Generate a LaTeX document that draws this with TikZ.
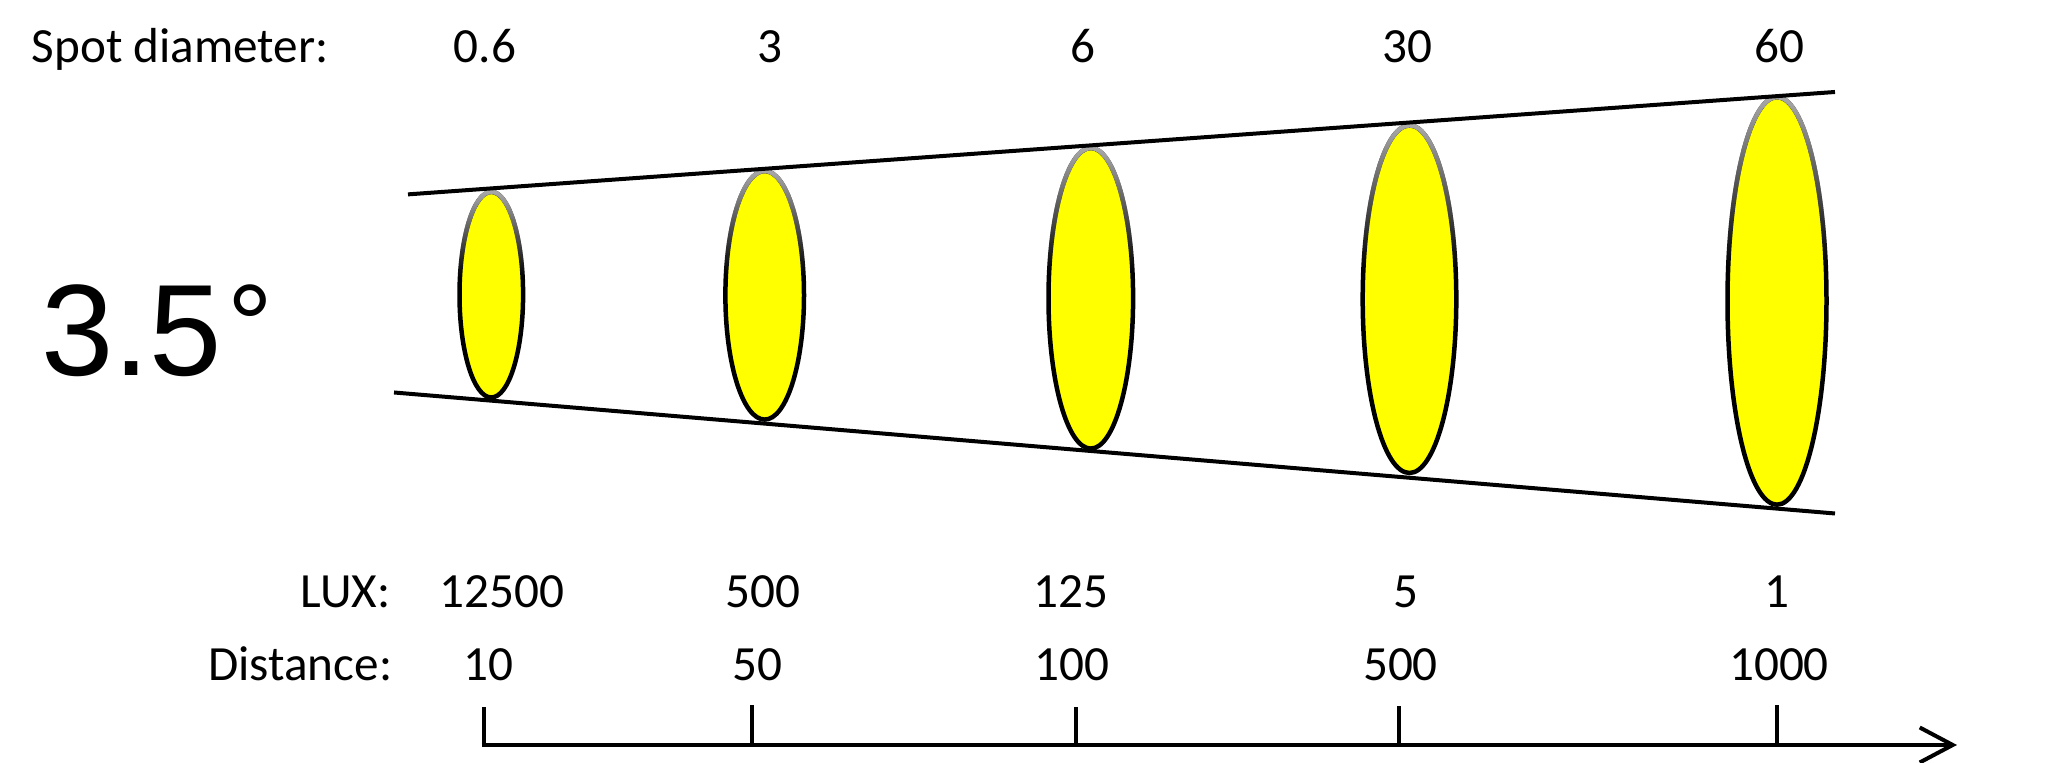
\documentclass[tikz,border=0pt]{standalone}
\usepackage{fontspec}
\setmainfont{Carlito}
\newfontfamily\anglefont{Liberation Sans}
\usepackage{tikz}
\usetikzlibrary{arrows.meta}
\usetikzlibrary{fadings}
\definecolor{spotyellow}{RGB}{255,255,0}
\definecolor{rimgray}{RGB}{172,172,172}
\pgfdeclareverticalshading{rimmask}{100bp}{color(0bp)=(black); color(25bp)=(black); color(54bp)=(black); color(75bp)=(white); color(100bp)=(white)}
\pgfdeclarefading{rimfade}{\pgfuseshading{rimmask}}

\begin{document}
\begin{tikzpicture}
\useasboundingbox (0,0) rectangle (20.6,7.63);

% spot centres and cone ends
\coordinate (Spot1) at (4.913,4.683);
\coordinate (Spot2) at (7.647,4.677);
\coordinate (Spot3) at (10.908,4.647);
\coordinate (Spot4) at (14.095,4.638);
\coordinate (Spot5) at (17.77,4.621);
\coordinate (ConeTopStart) at (4.08,5.686);
\coordinate (ConeTopEnd) at (18.35,6.71);
\coordinate (ConeLowStart) at (3.94,3.705);
\coordinate (ConeLowEnd) at (18.35,2.495);

\begin{scope}[line width=0.045cm,
              spot/.style={draw=black,fill=spotyellow},
              rim/.style={draw=rimgray,path fading=rimfade}]
    \path[spot] (Spot1) ellipse [x radius=0.318,y radius=1.028];
    \path[rim] (Spot1) ellipse [x radius=0.318,y radius=1.028];
    \path[spot] (Spot2) ellipse [x radius=0.393,y radius=1.243];
    \path[rim] (Spot2) ellipse [x radius=0.393,y radius=1.243];
    \path[spot] (Spot3) ellipse [x radius=0.423,y radius=1.503];
    \path[rim] (Spot3) ellipse [x radius=0.423,y radius=1.503];
    \path[spot] (Spot4) ellipse [x radius=0.468,y radius=1.738];
    \path[rim] (Spot4) ellipse [x radius=0.468,y radius=1.738];
    \path[spot] (Spot5) ellipse [x radius=0.495,y radius=2.038];
    \path[rim] (Spot5) ellipse [x radius=0.495,y radius=2.038];
    \end{scope}

\begin{scope}[line width=0.04cm]
    \draw (ConeTopStart) -- (ConeTopEnd);
    \draw (ConeLowStart) -- (ConeLowEnd);
    \end{scope}

\node[anchor=base west,inner sep=0pt,font=\anglefont\fontsize{37}{44}\selectfont] (Angle) at (0.405,3.875) {3.5\kern0.06cm\raisebox{3.2pt}{\fontsize{32.5}{38}\selectfont°}};

\begin{scope}[every node/.style={inner sep=0pt,anchor=base,font=\fontsize{14}{16}\selectfont}]
    \node[anchor=base west] (SpotLabel) at (0.31,7.00) {Spot diameter:};
    \node (SpotA) at (4.85,7.00) {0.6};
    \node (SpotB) at (7.70,7.00) {3};
    \node (SpotC) at (10.826,7.00) {6};
    \node (SpotD) at (14.07,7.00) {30};
    \node (SpotE) at (17.79,7.00) {60};
    \node[anchor=base east] (LuxLabel) at (3.91,1.557) {LUX:};
    \node (LuxA) at (5.017,1.557) {12500};
    \node (LuxB) at (7.63,1.557) {500};
    \node (LuxC) at (10.71,1.557) {125};
    \node (LuxD) at (14.06,1.557) {5};
    \node (LuxE) at (17.77,1.557) {1};
    \node[anchor=base east] (DistLabel) at (3.93,0.823) {Distance:};
    \node (DistA) at (4.883,0.823) {10};
    \node (DistB) at (7.57,0.823) {50};
    \node (DistC) at (10.72,0.823) {100};
    \node (DistD) at (14.005,0.823) {500};
    \node (DistE) at (17.79,0.823) {1000};
    \end{scope}

% distance axis
\coordinate (AxisStart) at (4.815,0.18);
\coordinate (AxisEnd) at (19.57,0.18);
\coordinate (Tick1) at (4.835,0.16);
\coordinate (Tick2) at (7.515,0.16);
\coordinate (Tick3) at (10.76,0.16);
\coordinate (Tick4) at (13.99,0.16);
\coordinate (Tick5) at (17.77,0.16);
\begin{scope}[line width=0.04cm]
    \draw [-{Straight Barb[length=3.3mm,width=3.5mm]}] (AxisStart) -- (AxisEnd);
    \draw (Tick1) -- ++(0,0.40);
    \draw (Tick2) -- ++(0,0.42);
    \draw (Tick3) -- ++(0,0.40);
    \draw (Tick4) -- ++(0,0.41);
    \draw (Tick5) -- ++(0,0.42);
    \end{scope}

\end{tikzpicture}
\end{document}
